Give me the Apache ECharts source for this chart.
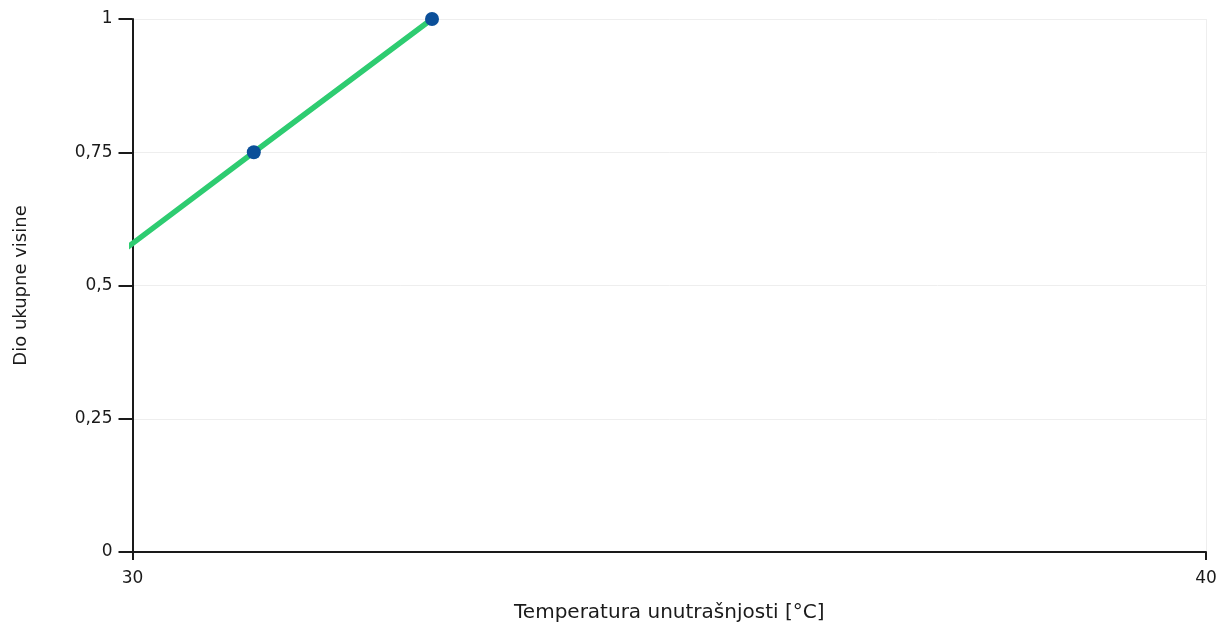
<!DOCTYPE html>
<html><head><meta charset="utf-8">
<script src="https://cdn.jsdelivr.net/npm/echarts@6/dist/echarts.min.js"></script>
<style>html,body{margin:0;padding:0;background:#fff}#c{width:1220px;height:628px}</style>
</head><body><div id="c"></div>
<script>
const temperatures = [29.48, 31.13, 32.79];
const heightShares = [0.5, 0.75, 1];
const yTicks = [0, 0.25, 0.5, 0.75, 1];
const xTicks = [30, 40];
const xName = 'Temperatura unutrašnjosti [°C]';
const yName = 'Dio ukupne visine';

const data = temperatures.map((t, i) => [t, heightShares[i]]);
const font = '"DejaVu Sans", sans-serif';
const chart = echarts.init(document.getElementById('c'));
chart.setOption({
  animation: false,
  grid: { left: 132.5, right: 14, top: 19, bottom: 75 },
  xAxis: {
    type: 'value', min: 30, max: 40, interval: 10,
    name: xName, nameLocation: 'middle', nameGap: 51,
    nameTextStyle: { color: '#1a1a1a', fontSize: 20, fontFamily: font },
    axisLine: { show: true, lineStyle: { color: '#1a1a1a', width: 2 } },
    axisTick: { show: true, length: 8, lineStyle: { color: '#1a1a1a', width: 2 } },
    axisLabel: { color: '#1a1a1a', fontSize: 17, fontFamily: font, margin: 18,
      formatter: v => xTicks.includes(v) ? String(v) : '' },
    splitLine: { show: true, lineStyle: { color: '#eeeeee', width: 1 } }
  },
  yAxis: {
    type: 'value', min: 0, max: 1, interval: 0.25,
    name: yName, nameLocation: 'middle', nameGap: 102, nameRotate: 90,
    nameTextStyle: { color: '#1a1a1a', fontSize: 18, fontFamily: font },
    axisLine: { show: true, lineStyle: { color: '#1a1a1a', width: 2 } },
    axisTick: { show: true, length: 14, lineStyle: { color: '#1a1a1a', width: 2 } },
    axisLabel: { color: '#1a1a1a', fontSize: 17, fontFamily: font, margin: 20,
      formatter: v => yTicks.includes(v) ? String(v).replace('.', ',') : '' },
    splitLine: { show: true, lineStyle: { color: '#eeeeee', width: 1 } }
  },
  series: [{
    type: 'line', data: data, clip: true,
    lineStyle: { color: '#2ecc71', width: 5.5 },
    itemStyle: { color: '#0b4f99' },
    symbol: 'circle', symbolSize: 14, showAllSymbol: true
  }]
});
</script></body></html>
